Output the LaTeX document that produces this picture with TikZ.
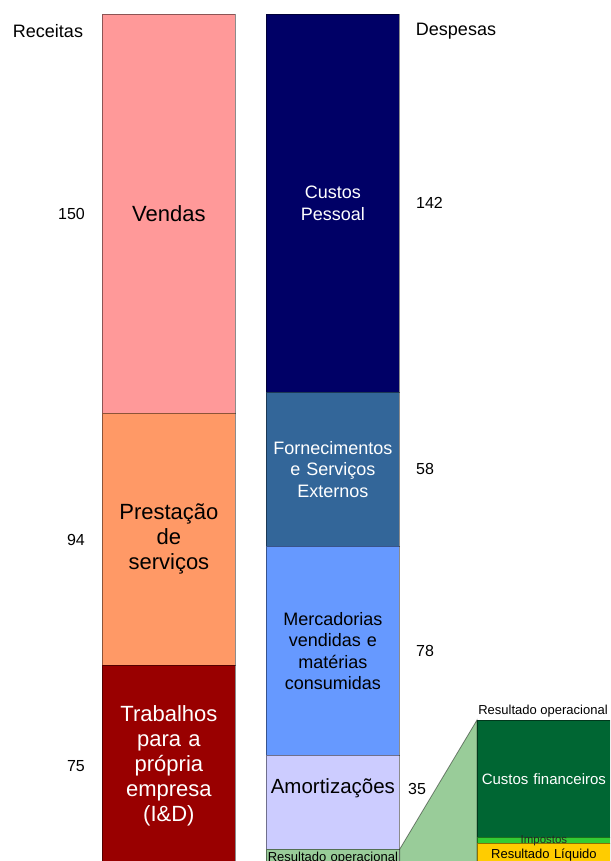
\documentclass[tikz,border=0pt]{standalone}
\usepackage{fontspec}
\setmainfont{Liberation Sans}

\definecolor{cVendas}{HTML}{FF9999}
\definecolor{cPrest}{HTML}{FF9966}
\definecolor{cTrab}{HTML}{990000}
\definecolor{cPessoal}{HTML}{000066}
\definecolor{cFse}{HTML}{336699}
\definecolor{cMerc}{HTML}{6699FF}
\definecolor{cAmort}{HTML}{CCCCFF}
\definecolor{cResOp}{HTML}{99CC99}
\definecolor{cFin}{HTML}{006633}
\definecolor{cImp}{HTML}{33CC33}
\definecolor{cResLiq}{HTML}{FFCC00}

\newcommand\fntBig{\fontsize{22}{25}\selectfont}
\newcommand\fntMid{\fontsize{18}{21.5}\selectfont}
\newcommand\fntNum{\fontsize{16}{18}\selectfont}
\newcommand\fntSm{\fontsize{13}{15}\selectfont}

\begin{document}
\begin{tikzpicture}[x=1pt,y=-1pt,
   bar/.style={draw=black,draw opacity=.45,line width=.8pt,anchor=north west,
      minimum width=133pt,inner sep=0pt,text width=131pt,align=center},
   num/.style={font=\fntNum,inner sep=0pt}]
   \useasboundingbox (0,0) rectangle (610,861);
   \clip (0,0) rectangle (610,861);

   % titles
   \node[font=\fntMid] (receitas) at (48,31) {Receitas};
   \node[font=\fntMid] (despesas) at (456,31) {Despesas};

   % receitas
   \node[bar,fill=cVendas,minimum height=399pt,font=\fntBig] (vendas) at (102,14) {Vendas};
   \node[bar,fill=cPrest,minimum height=252pt,font=\fntBig] (prest) at (102,413) {Prestação\\de\\serviços};
   \node[bar,fill=cTrab,text=white,minimum height=200pt,font=\fntBig] (trab) at (102,665) {Trabalhos\\para a\\própria\\empresa\\(I\&D)};
   \node[num,anchor=east] (nVendas) at (85,214) {150};
   \node[num,anchor=east] (nPrest) at (85,540) {94};
   \node[num,anchor=east] (nTrab) at (85,766) {75};

   % despesas
   \node[bar,fill=cPessoal,text=white,minimum height=378pt,font=\fntMid] (pessoal) at (266,14) {Custos\\Pessoal};
   \node[bar,fill=cFse,text=white,minimum height=154pt,font=\fntMid] (fse) at (266,392) {Fornecimentos\\e Serviços\\Externos};
   \node[bar,fill=cMerc,minimum height=209pt,font=\fntMid] (merc) at (266,546) {Mercadorias\\vendidas e\\matérias\\consumidas};
   \node[bar,fill=cAmort,minimum height=94pt] (amort) at (266,755) {};
   \node[font=\fontsize{20.5}{23}\selectfont] (amortTxt) at ([yshift=-33pt]amort.north) {Amortizações};
   \node[bar,fill=cResOp,minimum height=17pt,font=\fntSm] (resop) at (266,849) {Resultado operacional};
   \node[num,anchor=west] (nPessoal) at (416,203) {142};
   \node[num,anchor=west] (nFse) at (416,469) {58};
   \node[num,anchor=west] (nMerc) at (416,651) {78};
   \node[num,anchor=west] (nAmort) at (408,789) {35};
   \node[num,anchor=west] (nResop) at (416,858) {5};

   % resultado operacional em detalhe
   \coordinate (detail) at (477,720);
   \filldraw[fill=cResOp,draw=black,draw opacity=.45,line width=.8pt]
   (resop.north east) -- (detail) -- (detail |- 0,880) -- (resop.south east |- 0,880) -- cycle;
   \node[bar,fill=cFin,text=white,minimum height=117pt,font=\fontsize{15}{17}\selectfont] (cfin) at (detail) {Custos financeiros};
   \node[bar,fill=cImp,minimum height=6pt] (imp) at (477,837) {};
   \node[bar,fill=cResLiq,minimum height=23pt,font=\fntSm] (resliq) at (477,843) {Resultado Líquido};
   \node[font=\fontsize{11.5}{12}\selectfont,text=black!85] (impTxt) at (imp.center) {Impostos};
   \node[font=\fntSm] (resopTop) at (543,711) {Resultado operacional};
\end{tikzpicture}
\end{document}
